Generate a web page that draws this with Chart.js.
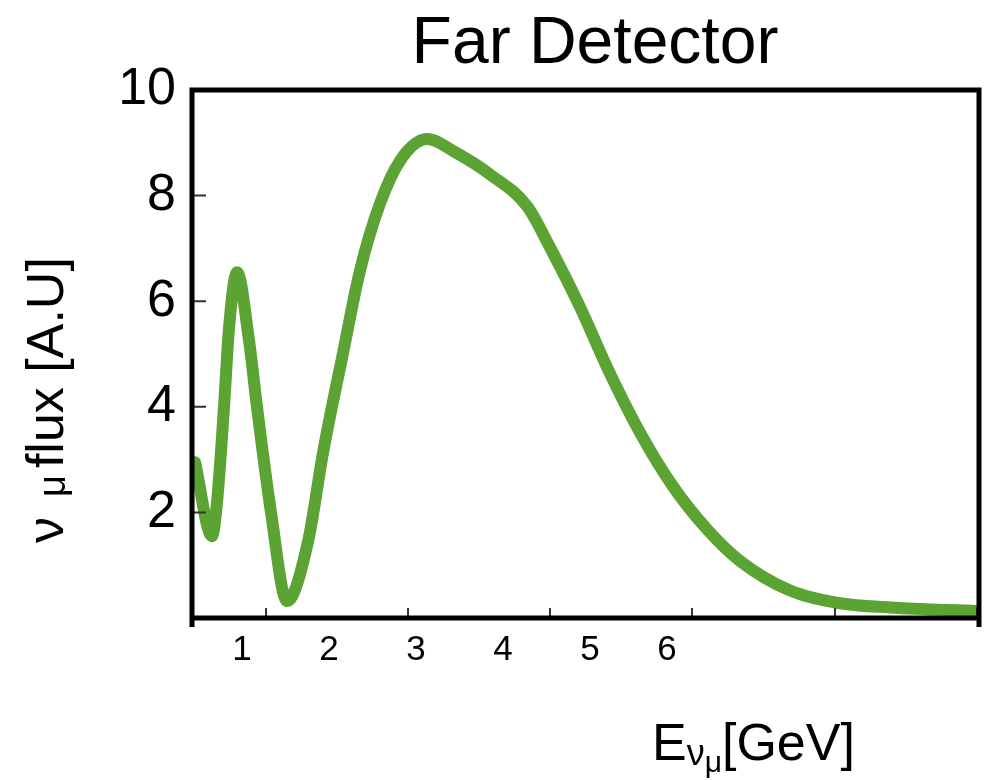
<!DOCTYPE html>
<html>
<head>
<meta charset="utf-8">
<script src="https://cdn.jsdelivr.net/npm/chart.js@4.4.0/dist/chart.umd.min.js"></script>
<style>
    html, body { margin: 0; padding: 0; background: #fff; }
    #wrap { width: 987px; height: 780px; }
</style>
</head>
<body>
<div id="wrap"><canvas id="fluxChart"></canvas></div>
<script>
// values
const energyGeV = [0.460, 0.655, 0.713, 0.793, 0.851, 0.943, 1.080, 1.172, 1.333, 1.517,
    1.759, 1.931, 2.161, 2.356, 2.586, 2.816, 3.126, 3.471, 3.851, 4.276,
    4.540, 4.885, 5.195, 5.575, 5.954, 6.345, 6.724, 7.299, 7.874, 8.448, 9.448];
const fluxAU = [2.95, 1.55, 2.2, 4.0, 5.5, 6.55, 5.26, 4.0, 2.0, 0.32,
    1.45, 3.13, 5.02, 6.58, 7.85, 8.66, 9.07, 8.8, 8.4, 7.8,
    7.02, 5.89, 4.75, 3.51, 2.49, 1.68, 1.08, 0.52, 0.28, 0.20, 0.13];

// x labels sit where the original figure put them (the "6" is drawn a bit left)
const xLabelValues = [1, 2, 3, 4, 5, 5.885];
const xLabelTexts = ['1', '2', '3', '4', '5', '6'];
const xMarkValues = [1.276, 2.908, 4.540, 6.172, 7.816, 9.448];
const xRange = [0.425, 9.471];
const yLabelValues = [2, 4, 6, 8, 10];
const yMarkValues = [2, 4, 6, 8];

const FONT = "'Liberation Sans', Arial, Helvetica, sans-serif";
Chart.defaults.font.family = FONT;
Chart.defaults.color = '#000';

// box + inward tick marks
const framePlugin = {
    id: 'frame',
    afterDatasetsDraw(chart) {
        const { ctx, chartArea: a, scales } = chart;
        ctx.save();
        ctx.strokeStyle = '#333';
        ctx.lineWidth = 2;
        ctx.beginPath();
        xMarkValues.forEach(v => {
            const px = scales.x.getPixelForValue(v);
            ctx.moveTo(px, a.bottom);
            ctx.lineTo(px, a.bottom - 10);
        });
        yMarkValues.forEach(v => {
            const py = scales.y.getPixelForValue(v);
            ctx.moveTo(a.left, py);
            ctx.lineTo(a.left + 14, py);
        });
        ctx.stroke();

        ctx.strokeStyle = '#000';
        ctx.lineWidth = 5;
        ctx.beginPath();
        ctx.moveTo(a.left, a.bottom + 9);
        ctx.lineTo(a.left, a.top);
        ctx.lineTo(a.right, a.top);
        ctx.lineTo(a.right, a.bottom + 9);
        ctx.moveTo(a.left, a.bottom);
        ctx.lineTo(a.right, a.bottom);
        ctx.stroke();
        ctx.restore();
    }
};

// titles with subscripts, drawn as runs of text
function drawRuns(ctx, runs, x, y) {
    runs.forEach(r => {
        if (r.gap) { x += r.gap; return; }
        ctx.font = r.size + 'px ' + FONT;
        ctx.fillText(r.text, x, y + (r.dy || 0));
        x += ctx.measureText(r.text).width;
    });
}

const titlePlugin = {
    id: 'titles',
    afterDraw(chart) {
        const { ctx } = chart;
        ctx.save();
        ctx.fillStyle = '#000';
        ctx.textBaseline = 'alphabetic';

        ctx.font = '66px ' + FONT;
        ctx.textAlign = 'center';
        ctx.fillText('Far Detector', 595, 63);

        ctx.textAlign = 'left';
        drawRuns(ctx, [
            { text: 'E', size: 52 },
            { text: 'ν', size: 36, dy: 5 },
            { text: 'μ', size: 30, dy: 12 },
            { text: '[GeV]', size: 52 }
        ], 652, 760);

        ctx.translate(63, 543);
        ctx.rotate(-Math.PI / 2);
        drawRuns(ctx, [
            { text: 'ν', size: 52 },
            { gap: 20 },
            { text: 'μ', size: 38, dy: 2 },
            { gap: 7 },
            { text: 'flux [A.U]', size: 52 }
        ], 0, 0);
        ctx.restore();
    }
};

const ctx = document.getElementById('fluxChart').getContext('2d');
const fluxChart = new Chart(ctx, {
    type: 'line',
    data: {
        datasets: [{
            data: energyGeV.map((e, i) => ({ x: e, y: fluxAU[i] })),
            borderColor: '#5ba333',
            borderWidth: 12,
            pointRadius: 0,
            fill: false,
            cubicInterpolationMode: 'monotone',
            borderCapStyle: 'round',
            borderJoinStyle: 'round'
        }]
    },
    options: {
        responsive: true,
        maintainAspectRatio: false,
        animation: false,
        layout: { padding: { left: 0, right: 8, top: 90, bottom: 0 } },
        plugins: {
            legend: { display: false },
            tooltip: { enabled: false },
            title: { display: false }
        },
        scales: {
            x: {
                type: 'linear',
                min: xRange[0],
                max: xRange[1],
                grid: { display: false, drawTicks: false },
                border: { display: false },
                afterBuildTicks: s => { s.ticks = xLabelValues.map(v => ({ value: v })); },
                afterFit: s => { s.height = 162; },
                ticks: {
                    autoSkip: false,
                    maxRotation: 0,
                    padding: 11,
                    font: { size: 35 },
                    callback: (v, i) => xLabelTexts[i]
                }
            },
            y: {
                min: 0,
                max: 10,
                grid: { display: false, drawTicks: false },
                border: { display: false },
                afterBuildTicks: s => { s.ticks = yLabelValues.map(v => ({ value: v })); },
                afterFit: s => { s.width = 192; },
                ticks: {
                    autoSkip: false,
                    padding: 16,
                    font: { size: 52 }
                }
            }
        }
    },
    plugins: [framePlugin, titlePlugin]
});
</script>
</body>
</html>
